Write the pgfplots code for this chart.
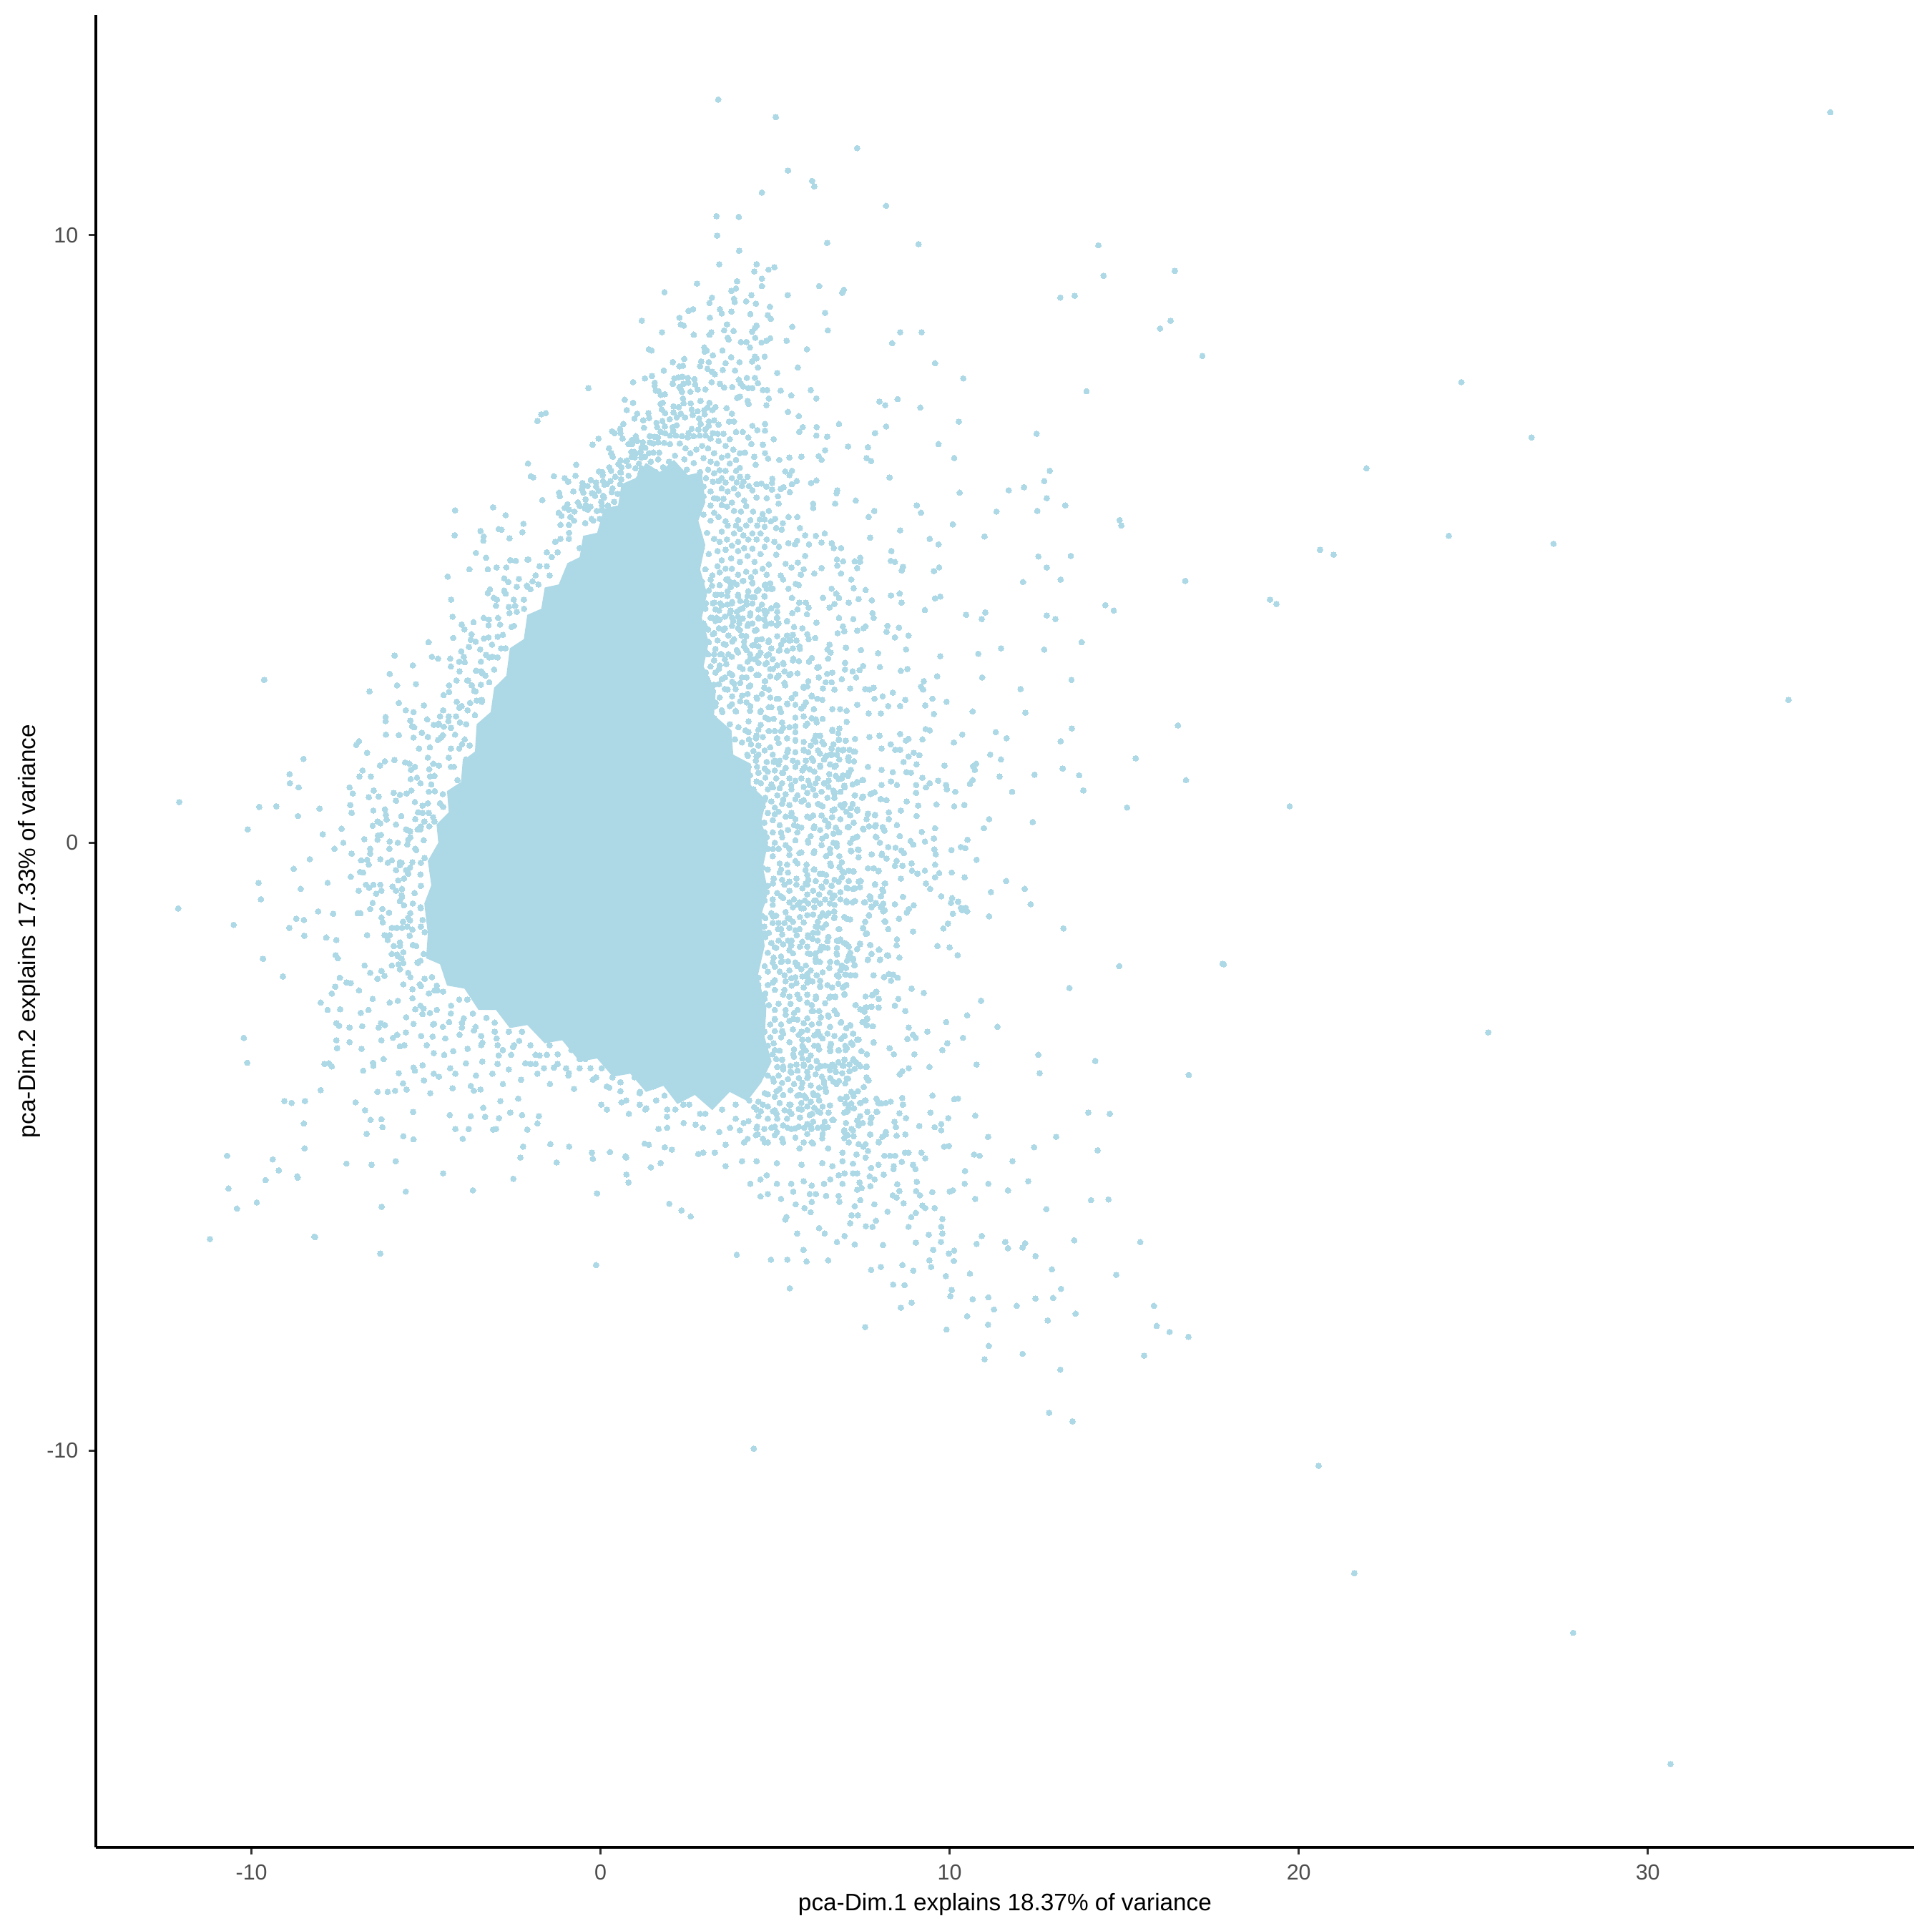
\documentclass[border=0pt]{standalone}
\usepackage{fontspec}
\setmainfont{Liberation Sans}
\usepackage{pgfplots}
\pgfplotsset{compat=1.18}
\definecolor{lb}{HTML}{ADD8E6}
\definecolor{tl}{HTML}{4D4D4D}
\definecolor{tk}{HTML}{333333}
\pgfplotsset{pts/.style={only marks,mark=*,mark size=0.95pt,color=lb,fill=lb,line width=0pt}}
% All positions are read by eye from the reference. Sparse points are individual readings;
% the reference holds far more points than this in the dense cloud, so its solid core is an
% outline and the dense rim and band are a hand-read subset, not the full data.
\begin{document}
\begin{tikzpicture}
\begin{axis}[
 scale only axis,width=610.08pt,height=614.88pt,
 xmin=-14.46,xmax=37.63,ymin=-16.53,ymax=13.62,
 axis lines=left,axis line style={-,line width=0.95pt,black},
 tick align=outside,major tick length=2.4pt,tick style={line width=0.7pt,color=tk},
 xtick={-10,0,10,20,30},xticklabels={-10,0,10,20,30},
 ytick={-10,0,10},yticklabels={-10,0,10},
 tick label style={font=\fontsize{7.3}{9}\selectfont,text=tl},
 label style={font=\fontsize{8}{9.5}\selectfont,text=black},
 xlabel={pca-Dim.1 explains 18.37\% of variance},
 ylabel={pca-Dim.2 explains 17.33\% of variance},
 xlabel style={at={(axis description cs:0.5,0)},anchor=center,yshift=-19.2pt},
 ylabel style={at={(axis description cs:0,0.5)},anchor=center,yshift=22.3pt},
 clip=false
]
% outline of the part of the cloud where the points merge into a solid area
\addplot[fill=lb,draw=none] coordinates {(-4.95,-1.5)(-5.05,-1.0)(-4.85,-0.7)(-4.95,-0.3)(-4.65,0.0)(-4.7,0.3)(-4.35,0.5)(-4.4,0.85)(-4.0,1.0)(-3.95,1.35)(-3.6,1.5)(-3.55,1.95)(-3.15,2.15)(-3.05,2.55)(-2.7,2.75)(-2.6,3.2)(-2.2,3.35)(-2.1,3.75)(-1.7,3.85)(-1.6,4.2)(-1.2,4.25)(-0.95,4.6)(-0.6,4.7)(-0.5,5.05)(-0.1,5.1)(0.1,5.5)(0.5,5.55)(0.6,5.9)(1.0,6.0)(1.3,6.25)(1.7,6.1)(2.1,6.3)(2.5,6.05)(2.9,6.1)(3.0,5.6)(2.8,5.3)(3.0,4.9)(2.85,4.5)(3.05,4.1)(2.9,3.7)(3.1,3.3)(2.95,2.9)(3.3,2.5)(3.25,2.1)(3.75,1.85)(3.8,1.45)(4.3,1.3)(4.3,0.95)(4.75,0.7)(4.6,0.35)(4.8,0)(4.65,-0.4)(4.8,-0.8)(4.6,-1.2)(4.7,-1.7)(4.5,-2.2)(4.75,-2.7)(4.7,-3.2)(4.9,-3.6)(4.6,-3.95)(4.2,-4.25)(3.7,-4.1)(3.2,-4.4)(2.7,-4.15)(2.2,-4.3)(1.8,-4.0)(1.3,-4.1)(0.85,-3.8)(0.35,-3.85)(-0.1,-3.55)(-0.6,-3.6)(-1.1,-3.25)(-1.6,-3.3)(-2.1,-3.0)(-2.6,-3.05)(-3.0,-2.75)(-3.5,-2.75)(-3.9,-2.4)(-4.4,-2.35)(-4.6,-2.0)(-5.0,-1.9)(-4.95,-1.5)};
% upper right
\addplot[pts] coordinates {(3.37,12.23)(5.02,11.94)(7.35,11.43)(5.37,11.06)(6.06,10.89)(6.12,10.80)(4.62,10.70)(8.18,10.48)(3.32,10.31)(3.96,10.30)(3.34,9.99)(6.49,9.87)(9.11,9.85)(14.26,9.83)(3.97,9.74)(16.45,9.41)(14.41,9.33)(4.47,9.52)(3.40,9.52)(4.98,9.47)(4.81,9.43)(4.40,9.40)(4.62,9.28)(3.91,9.24)(4.62,9.16)(6.26,9.16)(3.88,9.12)(3.75,9.08)(6.97,9.10)(6.92,9.05)(4.32,9.01)(5.36,9.01)(13.17,8.97)(13.58,9.0)(3.82,8.95)(4.17,8.91)(3.84,8.90)(4.45,8.87)(4.85,8.82)(3.42,8.78)(3.75,8.74)(3.47,8.71)(4.29,8.70)(6.43,8.72)(4.79,8.68)(4.88,8.62)(16.33,8.59)(16.03,8.46)(3.62,8.53)(4.47,8.51)(5.49,8.49)(4.42,8.47)(4.34,8.41)(3.54,8.43)(3.81,8.42)(6.51,8.43)(8.58,8.40)(9.20,8.40)(4.43,8.31)(3.64,8.31)(3.67,8.28)(4.86,8.30)(4.75,8.26)(4.02,8.24)(4.18,8.24)(4.61,8.23)(5.33,8.26)(8.35,8.22)(5.91,8.12)(4.28,8.15)(3.49,8.10)(17.24,8.01)(3.74,7.99)(4.42,8.0)(4.70,8.0)(4.47,7.97)(9.58,7.89)(3.98,7.91)(4.34,7.92)(3.58,7.89)(5.65,7.82)(4.51,7.82)(3.85,7.77)(3.50,7.78)(5.06,7.73)(10.39,7.64)(4.19,7.65)(4.42,7.65)(3.96,7.62)(4.51,7.56)(4.02,7.55)(4.08,7.51)(3.42,7.55)(3.54,7.49)(3.77,7.50)(4.23,7.48)(4.35,7.48)(4.65,7.45)(4.77,7.45)(5.16,7.44)(6.02,7.45)(13.92,7.43)(5.46,7.36)(4.82,7.31)(6.18,7.31)(3.91,7.32)(3.99,7.34)(4.21,7.27)(4.24,7.22)(4.75,7.20)(7.99,7.26)(8.51,7.30)(8.15,7.20)(9.16,7.16)(5.37,7.09)(5.68,7.02)(10.26,6.93)(4.35,6.86)(4.71,6.89)(5.79,6.84)(6.19,6.84)(6.83,6.89)(8.18,6.85)(4.49,6.79)(4.71,6.78)(5.69,6.76)(6.18,6.70)(6.49,6.68)(7.86,6.74)(12.49,6.73)(4.96,6.64)(9.68,6.56)(4.65,6.55)(7.09,6.52)(7.66,6.51)(6.43,6.46)(4.71,6.41)(4.40,6.35)(5.12,6.30)(5.41,6.34)(5.75,6.35)(6.25,6.36)(6.33,6.30)(7.62,6.33)(7.75,6.28)(10.13,6.33)(4.80,6.32)(4.44,6.22)(12.87,6.12)(5.29,6.11)(5.48,6.12)(5.41,6.05)(8.28,6.01)(5.62,5.95)(6.18,5.96)(6.03,5.92)(12.71,5.95)(4.92,5.99)(4.91,5.92)(5.48,5.90)(12.13,5.85)(11.69,5.80)(4.75,5.86)(5.24,5.85)(5.16,5.82)(6.78,5.80)(4.91,5.81)(5.42,5.77)(6.76,5.75)(10.29,5.76)(12.78,5.67)(5.08,5.70)(4.76,5.67)(7.31,5.63)(6.09,5.58)(6.72,5.58)(6.09,5.51)(5.10,5.58)(13.31,5.55)(9.06,5.55)(9.18,5.43)(11.34,5.45)(12.51,5.46)(7.84,5.46)(4.82,5.46)(14.87,5.31)(14.92,5.22)(7.68,5.36)(5.38,5.36)(5.64,5.36)(5.0,5.33)(10.09,5.24)(5.22,5.26)(5.71,5.18)(5.03,5.18)(5.19,5.15)(8.58,5.14)(5.86,5.06)(6.42,5.09)(6.17,5.05)(11.0,5.04)(7.72,5.02)(9.43,5.0)(5.63,4.97)(6.62,4.93)(4.98,4.95)(5.38,4.93)(5.97,4.91)(6.33,4.94)(9.68,4.91)(5.57,4.91)(5.11,4.87)(6.68,4.85)(6.89,4.85)(8.33,4.80)(20.61,4.82)(21.0,4.74)(5.86,4.72)(13.47,4.72)(12.54,4.71)(5.03,4.74)(6.77,4.66)(7.28,4.63)(7.44,4.69)(7.43,4.62)(6.95,4.63)(8.31,4.64)(8.43,4.62)(5.30,4.59)(5.65,4.61)(8.66,4.54)(6.78,4.56)(5.47,4.53)(7.35,4.52)(9.70,4.53)(12.78,4.53)(5.82,4.50)(6.33,4.52)(8.63,4.48)(9.55,4.47)(6.12,4.43)(6.89,4.43)(5.74,4.41)(5.16,4.40)(13.18,4.33)(7.18,4.33)(12.1,4.29)(16.75,4.31)(5.59,4.26)(5.68,4.24)(5.23,4.33)(7.25,4.19)(7.59,4.16)(6.62,4.18)(5.38,4.18)(6.75,4.10)(8.32,4.07)(8.57,4.10)(9.73,4.05)(9.58,4.02)(5.48,4.03)(6.83,4.03)(6.37,4.03)(7.39,4.01)(7.77,3.99)(19.18,4.0)(19.36,3.93)(5.69,3.95)(6.70,3.93)(7.11,3.95)(8.62,3.95)(5.88,3.95)(14.46,3.91)(14.70,3.82)(5.96,3.87)(6.56,3.87)(5.64,3.84)(9.29,3.83)(7.79,3.78)(10.47,3.75)(11.02,3.79)(10.92,3.68)(12.78,3.74)(13.03,3.68)(5.91,3.76)(5.49,3.78)(6.83,3.70)(7.24,3.68)(7.82,3.70)(5.34,3.64)(6.18,3.62)(8.22,3.57)(8.55,3.54)(7.59,3.56)(7.53,3.53)(6.94,3.56)(5.54,3.55)(7.35,3.49)(6.98,3.48)(6.79,3.45)(8.19,3.47)(5.78,3.53)(8.82,3.41)(8.43,3.38)(5.92,3.43)(6.15,3.37)(5.96,3.35)(6.56,3.26)(13.78,3.30)(7.03,3.21)(11.47,3.20)(12.71,3.18)(7.46,3.17)(8.75,3.18)(7.95,3.12)(6.5,3.18)(6.59,3.13)(10.82,3.11)(9.73,3.07)(6.05,3.04)(6.52,3.03)(5.97,2.98)(7.0,2.96)(7.52,2.91)(8.0,2.89)(6.21,2.88)(6.25,2.89)(7.0,2.85)(7.22,2.82)(7.42,2.84)(8.6,2.83)(8.79,2.86)(6.49,2.78)(6.64,2.80)(6.91,2.69)(7.32,2.72)(9.64,2.74)(10.93,2.72)(13.49,2.68)(6.25,2.72)(5.95,2.66)(6.45,2.64)(6.62,2.64)(9.26,2.66)(9.18,2.57)(9.24,2.52)(12.03,2.53)(7.82,2.55)(8.37,2.47)(7.15,2.54)(7.58,2.53)(7.7,2.52)(6.7,2.52)(6.37,2.54)(8.08,2.41)(8.73,2.35)(9.51,2.37)(7.85,2.37)(9.91,2.32)(7.35,2.27)(8.24,2.25)(8.58,2.25)(9.30,2.26)(10.66,2.16)(12.17,2.14)(9.55,2.12)(8.03,2.13)(7.68,2.13)(7.05,2.17)(6.86,2.20)};
% lower right
\addplot[pts] coordinates {(16.54,1.93)(13.50,1.88)(11.32,1.82)(10.36,1.78)(11.63,1.72)(13.18,1.67)(10.12,1.65)(9.31,1.87)(9.43,1.85)(8.58,1.79)(8.82,1.71)(9.22,1.70)(8.75,1.68)(8.31,1.62)(11.16,1.45)(11.47,1.37)(15.33,1.39)(9.85,1.27)(10.76,1.30)(10.67,1.26)(10.72,1.20)(13.24,1.22)(8.97,1.48)(9.13,1.44)(8.44,1.53)(8.58,1.53)(8.82,1.42)(9.05,1.29)(8.68,1.33)(8.37,1.16)(8.76,1.16)(8.89,1.15)(12.43,1.12)(13.71,1.11)(11.43,1.09)(16.77,1.03)(10.66,1.03)(10.58,0.97)(9.67,1.02)(9.22,1.07)(9.90,0.95)(9.43,0.98)(9.04,0.95)(8.49,0.95)(9.92,0.88)(10.16,0.84)(11.79,0.84)(13.83,0.86)(9.32,0.91)(9.04,0.82)(8.19,0.70)(8.77,0.68)(8.02,0.72)(9.10,0.61)(9.62,0.63)(10.13,0.60)(10.42,0.62)(15.08,0.58)(19.74,0.60)(8.60,0.53)(8.26,0.50)(9.05,0.44)(7.86,0.45)(7.65,0.47)(8.26,0.39)(11.13,0.39)(12.38,0.34)(10.98,0.24)(8.49,0.29)(9.58,0.24)(9.20,0.18)(7.86,0.27)(8.08,0.26)(7.53,0.22)(8.13,0.20)(9.55,0.07)(8.57,0.11)(10.51,0.05)(7.88,0.10)(8.88,0.03)(9.29,0.02)(8.24,-0.07)(8.96,-0.03)(10.32,-0.07)(10.45,-0.09)(8.45,-0.08)(9.56,-0.11)(10.05,-0.12)(8.62,-0.13)(8.69,-0.17)(7.37,-0.11)(7.77,-0.19)(8.05,-0.2)(9.60,-0.19)(7.39,-0.24)(8.19,-0.26)(10.77,-0.28)(8.48,-0.30)(8.91,-0.34)(9.58,-0.36)(8.43,-0.38)(8.65,-0.38)(7.66,-0.42)(7.82,-0.42)(8.92,-0.46)(9.29,-0.46)(7.96,-0.47)(9.08,-0.51)(9.70,-0.50)(10.06,-0.49)(9.58,-0.57)(10.43,-0.57)(8.60,-0.59)(11.62,-0.63)(9.32,-0.67)(8.15,-0.67)(7.86,-0.69)(7.45,-0.63)(12.15,-0.76)(9.44,-0.76)(11.18,-0.81)(8.10,-0.80)(8.66,-0.89)(9.76,-0.88)(10.07,-0.91)(7.71,-0.88)(8.03,-0.88)(10.04,-0.99)(10.24,-0.97)(12.32,-1.01)(8.43,-1.01)(8.97,-1.03)(7.55,-0.98)(7.88,-1.0)(7.76,-1.05)(8.05,-1.05)(10.32,-1.07)(10.46,-1.07)(8.83,-1.09)(10.36,-1.11)(10.50,-1.13)(8.10,-1.13)(8.77,-1.15)(10.09,-1.17)(11.13,-1.21)(7.69,-1.20)(8.55,-1.25)(8.16,-1.30)(9.95,-1.33)(13.26,-1.41)(7.52,-1.41)(9.82,-1.41)(8.24,-1.42)(8.95,-1.46)(7.63,-1.49)(8.49,-1.59)(7.43,-1.67)(8.48,-1.69)(7.72,-1.68)(9.65,-1.70)(10.0,-1.72)(7.35,-1.75)(7.97,-1.76)(10.23,-1.85)(7.76,-1.83)(8.24,-1.86)(8.56,-1.89)(7.65,-1.93)(8.0,-1.93)(14.86,-2.03)(17.85,-2.0)(7.28,-2.01)(8.26,-2.16)(8.38,-2.17)(8.51,-2.22)(8.12,-2.21)(7.82,-2.18)(7.30,-2.18)(8.32,-2.27)(13.43,-2.39)(8.91,-2.40)(9.26,-2.47)(10.90,-2.60)(8.53,-2.57)(7.97,-2.57)(7.59,-2.53)(7.89,-2.46)(7.78,-2.51)(8.43,-2.68)(7.96,-2.71)(7.31,-2.67)(7.44,-2.74)(7.62,-2.71)(10.50,-2.84)(8.73,-2.77)(9.90,-2.95)(7.50,-2.95)(11.37,-3.03)(7.63,-2.89)(7.63,-3.0)(7.79,-3.02)(8.83,-3.04)(9.36,-3.11)(8.95,-3.16)(9.03,-3.21)(8.79,-3.23)(10.38,-3.21)(9.93,-3.30)(7.82,-3.28)(8.28,-3.38)(9.79,-3.41)(8.40,-3.48)(8.99,-3.48)(12.54,-3.49)(14.17,-3.59)(10.77,-3.65)(9.42,-3.69)(8.83,-3.71)(8.64,-3.76)(8.57,-3.81)(7.62,-3.68)(12.58,-3.79)(16.85,-3.82)(7.62,-3.86)(7.68,-3.91)(7.37,-4.09)(9.51,-4.16)(8.64,-4.20)(10.24,-4.21)(10.13,-4.22)(8.66,-4.31)(7.91,-4.22)(7.95,-4.28)(8.04,-4.29)(8.31,-4.26)(7.57,-4.24)(7.43,-4.28)(13.97,-4.44)(14.59,-4.46)(9.45,-4.44)(10.73,-4.49)(8.56,-4.45)(7.92,-4.43)(7.64,-4.43)(8.75,-4.53)(9.96,-4.53)(7.74,-4.54)(8.42,-4.59)(9.76,-4.63)(9.13,-4.66)(9.57,-4.68)(8.46,-4.68)(7.36,-4.57)(7.51,-4.61)(9.76,-4.73)(7.72,-4.80)(8.73,-4.80)(8.48,-4.82)(8.17,-4.80)(11.10,-4.84)(13.05,-4.84)(7.97,-4.92)(14.24,-5.06)(12.42,-5.01)(9.84,-5.0)(9.98,-4.99)(7.39,-4.96)(7.53,-5.0)(7.66,-5.07)(8.72,-5.10)(8.82,-5.10)(9.19,-5.10)(10.70,-5.13)(10.86,-5.15)(8.13,-5.15)(8.29,-5.15)(8.44,-5.15)(9.30,-5.19)(7.59,-5.18)(7.33,-5.13)(11.80,-5.24)(8.63,-5.25)(8.95,-5.30)(7.96,-5.30)(8.40,-5.32)(7.75,-5.35)(9.02,-5.37)(8.39,-5.37)(10.44,-5.40)(7.35,-5.44)(8.11,-5.46)(7.71,-5.49)(7.85,-5.54)(12.25,-5.57)(10.43,-5.61)(11.11,-5.61)(8.50,-5.62)(9.06,-5.58)(7.42,-5.59)(7.73,-5.65)(7.48,-5.68)(11.67,-5.72)(8.56,-5.73)(9.04,-5.73)(10.09,-5.72)(10.0,-5.74)(9.50,-5.75)(7.35,-5.71)(9.15,-5.80)(8.37,-5.80)(8.48,-5.84)(10.73,-5.86)(14.05,-5.88)(14.55,-5.87)(8.68,-5.93)(7.84,-5.95)(7.44,-5.88)(7.28,-5.98)(9.22,-5.97)(9.30,-6.01)(9.57,-6.01)(12.77,-6.03)(8.22,-6.07)(9.03,-6.09)(7.37,-6.13)(9.79,-6.19)(8.90,-6.16)(7.19,-6.13)(7.89,-6.22)(7.15,-6.26)(7.60,-6.31)(7.79,-6.32)(8.82,-6.32)(9.76,-6.32)(9.79,-6.43)(6.99,-6.47)(9.40,-6.45)(10.92,-6.47)(9.03,-6.58)(9.75,-6.57)(10.77,-6.60)(11.59,-6.57)(13.57,-6.54)(15.46,-6.57)(12.16,-6.59)(12.09,-6.66)(11.67,-6.67)(8.09,-6.62)(7.28,-6.61)(9.53,-6.70)(10.13,-6.71)(9.98,-6.76)(12.46,-6.80)(9.42,-6.87)(10.12,-6.88)(9.47,-6.98)(8.65,-6.95)(8.03,-6.98)(7.75,-7.03)(8.96,-7.04)(12.93,-7.02)(10.58,-7.09)(9.89,-7.13)(14.77,-7.11)(8.38,-7.27)(8.71,-7.28)(13.19,-7.34)(10.06,-7.36)(10.02,-7.46)(10.66,-7.51)(11.11,-7.48)(12.46,-7.50)(12.96,-7.49)(11.92,-7.62)(15.85,-7.62)(8.60,-7.65)(8.91,-7.57)(11.27,-7.68)(13.61,-7.75)(10.50,-7.79)(12.81,-7.86)(15.93,-7.95)(11.10,-7.93)(16.30,-8.05)(16.84,-8.13)(9.91,-8.01)(7.58,-7.97)(11.12,-8.28)(12.09,-8.41)(15.57,-8.44)(11.0,-8.5)(3.90,-6.78)(4.88,-6.86)(5.35,-6.86)(5.90,-6.89)(6.52,-6.87)(5.42,-7.33)(5.63,-6.43)(6.26,-6.34)(6.42,-6.43)(6.77,-6.57)(5.81,-6.70)(5.32,-6.16)(5.29,-6.20)};
% far outliers
\addplot[pts] coordinates {(4.39,-9.97)(20.57,-10.25)(21.59,-12.02)(27.86,-13.0)(30.65,-15.16)(35.23,12.02)(34.03,2.35)(25.43,-3.12)(17.82,-1.99)(12.85,-9.38)(13.52,-9.52)(13.17,-8.67)(24.66,7.58)(26.67,6.67)(21.94,6.16)(24.30,5.05)(27.30,4.92)(-10.7,-5.15)(-10.66,-5.69)(-10.42,-6.02)(-11.19,-6.52)(-9.85,-5.92)(-9.6,-5.55)(-9.39,-5.21)(-9.22,-5.39)(-8.69,-5.49)(-8.2,-6.48)};
% left
\addplot[pts] coordinates {(-4.17,5.47)(-3.08,5.52)(-2.72,5.39)(-2.21,5.25)(-4.18,5.06)(-3.44,5.13)(-2.92,5.16)(-2.84,5.15)(-3.35,5.04)(-3.36,4.97)(-2.61,5.01)(-2.24,5.11)(-3.57,4.77)(-3.28,4.69)(-3.76,4.50)(-3.23,4.50)(-2.98,4.53)(-2.59,4.65)(-2.43,4.64)(-2.07,4.66)(-4.38,4.38)(-2.70,4.53)(-2.76,4.35)(-2.64,4.29)(-2.34,4.34)(-2.11,4.23)(-3.17,4.17)(-3.23,4.11)(-2.76,4.15)(-3.06,4.03)(-2.97,4.0)(-4.28,4.0)(-2.49,4.0)(-3.0,3.90)(-2.63,3.88)(-2.19,3.85)(-4.24,3.72)(-3.98,3.59)(-3.64,3.63)(-3.35,3.70)(-3.20,3.67)(-3.21,3.58)(-2.94,3.70)(-2.61,3.78)(-3.90,3.51)(-3.70,3.43)(-2.88,3.59)(-4.22,3.37)(-4.93,3.30)(-3.72,3.34)(-3.58,3.31)(-3.34,3.36)(-3.21,3.38)(-3.77,3.22)(-3.11,3.26)(-3.45,3.18)(-5.90,3.08)(-4.83,3.06)(-4.66,3.03)(-4.31,3.03)(-3.92,3.06)(-3.99,3.15)(-3.28,3.09)(-3.10,3.06)(-5.38,2.92)(-4.29,2.90)(-4.05,2.98)(-3.89,2.97)(-3.43,2.98)(-6.04,2.78)(-3.57,2.83)(-4.04,2.82)(-3.39,2.79)(-9.64,2.68)(-5.29,2.61)(-5.83,2.59)(-4.13,2.67)(-3.80,2.67)(-4.34,2.59)(-3.69,2.59)(-6.62,2.49)(-4.50,2.43)(-4.34,2.48)(-3.62,2.50)(-5.78,2.30)(-4.12,2.32)(-5.06,2.26)(-3.55,2.34)(-3.40,2.32)(-5.58,2.18)(-5.36,2.15)(-4.51,2.18)(-3.98,2.25)(-3.81,2.18)(-6.16,2.07)(-6.16,2.0)(-4.60,2.08)(-4.35,2.08)(-4.97,2.03)(-5.45,2.01)(-4.14,2.08)(-5.40,1.92)(-4.78,1.94)(-4.65,1.94)(-4.49,1.91)(-5.34,1.90)(-4.29,1.89)(-4.03,1.98)(-5.12,1.81)(-6.15,1.78)(-5.78,1.77)(-5.36,1.73)(-4.95,1.74)(-4.66,1.69)(-6.92,1.67)(-7.0,1.61)(-4.57,1.73)(-4.17,1.78)(-6.69,1.48)(-5.20,1.55)(-4.89,1.57)(-8.51,1.38)(-5.91,1.36)(-6.18,1.34)(-6.32,1.27)(-5.60,1.32)(-5.48,1.30)(-4.95,1.40)(-4.79,1.30)(-4.63,1.27)(-5.32,1.25)(-5.43,1.20)(-6.82,1.19)(-8.91,1.13)(-6.58,1.09)(-6.91,1.09)(-5.44,1.05)(-5.26,1.07)(-4.89,1.09)(-8.90,0.98)(-8.65,0.91)(-7.19,0.91)(-7.10,0.81)(-6.50,0.86)(-5.16,0.98)(-4.85,0.96)(-6.36,0.76)(-6.64,0.75)(-5.93,0.82)(-5.75,0.79)(-5.56,0.81)(-5.42,0.86)(-4.92,0.84)(-12.07,0.67)(-9.78,0.59)(-9.29,0.60)(-8.05,0.56)(-7.17,0.62)(-8.67,0.44)(-7.13,0.49)(-6.51,0.53)(-6.18,0.55)(-6.15,0.46)(-5.86,0.69)(-5.32,0.67)(-5.10,0.61)(-5.71,0.44)(-5.10,0.49)(-5.31,0.39)(-6.39,0.35)(-6.31,0.32)(-6.13,0.38)(-6.53,0.28)(-5.86,0.30)(-10.11,0.22)(-7.42,0.23)(-7.96,0.14)(-6.38,0.12)(-6.29,0.13)(-5.51,0.20)(-5.24,0.22)(-7.37,0.0)(-6.77,0.06)(-6.39,0.05)(-6.04,0.02)(-5.81,0.0)(-5.51,0.05)(-7.62,-0.10)(-6.60,-0.10)(-6.05,-0.10)(-7.13,-0.18)(-6.60,-0.18)(-8.33,-0.27)(-6.86,-0.29)(-6.69,-0.28)(-6.31,-0.27)(-5.98,-0.29)(-6.64,-0.36)(-6.10,-0.33)(-5.75,-0.37)(-8.79,-0.43)(-6.89,-0.48)(-6.80,-0.49)(-5.86,-0.45)(-5.51,-0.51)(-7.16,-0.56)(-9.80,-0.66)(-7.82,-0.66)(-6.72,-0.69)(-6.51,-0.69)(-6.31,-0.69)(-5.80,-0.62)(-8.59,-0.76)(-6.93,-0.79)(-6.63,-0.74)(-5.96,-0.72)(-6.28,-0.79)(-5.69,-0.76)(-9.73,-0.93)(-6.43,-0.84)(-5.69,-0.89)(-6.53,-0.99)(-5.63,-1.03)(-12.10,-1.08)(-6.60,-1.09)(-6.25,-1.09)(-8.09,-1.13)(-7.66,-1.17)(-6.96,-1.16)(-6.88,-1.16)(-6.06,-1.15)(-5.45,-1.16)(-6.28,-1.23)(-6.24,-1.31)(-5.66,-1.30)(-5.46,-1.28)(-10.51,-1.35)(-8.72,-1.25)(-8.50,-1.27)(-8.92,-1.40)(-5.84,-1.40)(-5.69,-1.40)(-8.49,-1.53)(-6.69,-1.52)(-6.19,-1.52)(-6.04,-1.52)(-7.86,-1.56)(-7.57,-1.60)(-6.10,-1.60)(-5.47,-1.53)(-5.92,-1.70)(-5.75,-1.70)(-7.59,-1.85)(-7.53,-1.90)(-9.67,-1.91)(-5.98,-1.83)(-5.83,-1.84)(-5.65,-1.80)(-6.76,-2.02)(-5.79,-2.0)(-5.65,-1.98)(-5.98,-2.02)(-6.28,-2.11)(-6.60,-2.14)(-5.75,-2.08)(-5.25,-1.97)(-9.10,-2.20)(-7.47,-2.22)(-6.19,-2.19)(-6.39,-2.24)(-5.45,-2.21)(-7.28,-2.30)(-7.16,-2.31)(-5.65,-2.33)(-5.18,-2.33)(-6.92,-2.43)(-7.60,-2.37)(-7.70,-2.48)(-6.53,-2.57)(-5.39,-2.56)(-6.04,-2.63)(-5.81,-2.60)(-8.02,-2.63)(-5.31,-2.74)(-7.82,-2.75)(-7.46,-2.74)(-6.87,-2.80)(-6.65,-2.75)(-5.10,-2.82)(-5.57,-2.87)(-4.89,-2.80)(-7.57,-2.97)(-7.49,-3.01)(-7.19,-3.04)(-6.83,-3.02)(-6.36,-3.04)(-6.29,-2.97)(-6.18,-3.0)(-5.36,-2.98)(-4.77,-2.98)(-10.22,-3.21)(-5.58,-3.12)(-5.83,-3.16)(-7.57,-3.25)(-7.19,-3.28)(-6.28,-3.25)(-5.95,-3.21)(-5.14,-3.18)(-4.81,-3.19)(-7.55,-3.38)(-6.85,-3.39)(-5.75,-3.35)(-5.62,-3.33)(-4.98,-3.33)(-6.22,-3.56)(-4.78,-3.46)(-4.48,-3.49)(-10.12,-3.62)(-7.91,-3.64)(-7.78,-3.63)(-7.70,-3.68)(-6.52,-3.62)(-6.51,-3.67)(-5.10,-3.66)(-5.36,-3.70)(-6.80,-3.75)(-5.32,-3.75)(-4.31,-3.71)(-5.78,-3.79)(-4.78,-3.80)(-4.63,-3.85)(-5.06,-3.91)(-4.16,-3.80)(-5.66,-3.96)(-3.72,-4.0)(-8.02,-4.07)(-5.56,-4.06)(-4.24,-4.04)(-3.63,-4.08)(-3.44,-4.06)(-4.88,-4.12)(-6.39,-4.10)(-6.10,-4.10)(-5.89,-4.08)(-9.06,-4.25)(-8.85,-4.28)(-8.47,-4.25)(-7.02,-4.27)(-2.87,-4.25)(-3.36,-4.36)(-6.75,-4.40)(-5.37,-4.43)(-4.32,-4.48)(-3.72,-4.50)(-2.59,-4.44)(-6.59,-4.56)(-6.28,-4.55)(-8.50,-4.62)(-6.25,-4.68)(-3.31,-4.51)(-2.91,-4.53)(-6.70,-4.79)(-4.16,-4.71)(-3.78,-4.71)(-3.08,-4.72)(-3.0,-4.71)(-5.65,-4.83)(-5.36,-4.88)(-3.95,-4.87)(-2.10,-4.72)(-1.81,-4.62)(-2.25,-4.48)(-1.77,-4.50)(-2.36,-4.21)(-0.90,-5.0)(-2.22,-5.0)(-1.44,-4.96)(-2.30,-5.18)(-0.25,-5.10)(-0.22,-5.20)(0.27,-5.09)(0.71,-5.16)(0.73,-5.18)(-1.26,-5.26)(1.44,-5.34)(1.72,-5.27)(2.80,-5.12)(2.94,-5.10)(3.27,-5.10)(1.84,-5.01)(2.04,-5.05)(1.26,-4.95)(1.38,-4.97)(-7.28,-5.28)(-6.56,-5.30)(-5.87,-5.24)(-8.68,-5.51)(-4.51,-5.44)(-2.50,-5.53)(0.74,-5.46)(0.80,-5.59)(-5.58,-5.74)(-3.66,-5.72)(-0.10,-5.77)(-6.27,-5.99)(1.97,-5.94)(2.32,-6.05)(2.58,-6.15)(-8.18,-6.49)(-6.31,-6.76)(-0.13,-6.95)(-8.48,-5.03)};
% top of the upper lobe
\addplot[pts] coordinates {(2.76,9.20)(1.83,9.06)(3.19,8.97)(3.12,8.88)(2.65,8.78)(2.52,8.75)(2.26,8.64)(3.13,8.64)(1.18,8.59)(2.30,8.53)(2.38,8.51)(1.76,8.40)(2.67,8.36)(3.17,8.40)(3.12,8.36)(1.38,8.12)(1.46,8.10)(2.97,8.15)(2.98,8.08)(3.04,8.10)(2.40,7.96)(2.07,7.91)(2.36,7.85)(2.26,7.84)(2.88,7.92)(2.85,7.84)(3.22,8.02)(3.10,7.91)(1.81,7.77)(3.06,7.80)(3.19,7.75)(3.27,7.71)(1.47,7.68)(1.27,7.64)(0.93,7.58)(2.11,7.64)(2.23,7.66)(2.34,7.67)(2.50,7.65)(2.69,7.63)(3.18,7.58)(2.07,7.55)(1.55,7.57)(1.55,7.52)(2.51,7.57)(2.37,7.55)(2.71,7.54)(2.26,7.50)(2.78,7.46)(-0.35,7.48)(3.0,7.46)(2.30,7.46)(1.58,7.44)(1.66,7.43)(2.33,7.42)(2.57,7.42)(1.72,7.37)(1.84,7.38)(2.36,7.31)(0.69,7.29)(0.93,7.24)(2.86,7.27)(1.78,7.24)(1.72,7.22)(2.38,7.23)(2.58,7.23)(3.12,7.24)(2.09,7.18)(2.24,7.17)(3.06,7.16)(3.29,7.17)(1.75,7.13)(0.75,7.12)(2.61,7.13)(2.78,7.10)(2.97,7.12)(3.2,7.12)(-1.57,7.07)(-1.70,7.05)(1.37,7.07)(1.05,7.06)(1.85,7.07)(2.09,7.08)(2.30,7.06)(2.64,7.04)(2.98,7.05)(-1.81,6.94)(0.97,6.98)(1.39,6.99)(2.18,7.0)(2.42,7.0)(2.82,6.98)(1.22,6.95)(1.98,6.97)(1.77,6.94)(1.60,6.91)(3.25,6.95)(3.10,6.93)(0.65,6.89)(2.87,6.89)(1.84,6.85)(1.62,6.84)(2.06,6.84)(2.18,6.87)(1.24,6.83)(0.56,6.81)(0.33,6.77)(0.40,6.74)(0.57,6.74)(1.72,6.76)(1.85,6.74)(2.08,6.78)(2.61,6.81)(2.80,6.80)(3.0,6.80)(3.10,6.86)(3.22,6.74)(1.99,6.70)(2.16,6.70)(2.52,6.74)(2.67,6.69)(2.84,6.70)(3.01,6.70)(-0.06,6.65)(0.63,6.65)(1.01,6.69)(1.41,6.69)(1.55,6.68)(1.64,6.67)(0.90,6.63)(1.05,6.61)(1.21,6.59)(2.33,6.69)(2.50,6.67)(3.15,6.65)(1.41,6.59)(1.51,6.57)(1.65,6.59)(1.82,6.58)(1.99,6.56)(-0.23,6.55)(0.80,6.56)(0.90,6.56)(1.17,6.50)(0.24,6.49)(0.30,6.41)(0.88,6.43)(1.15,6.43)(1.38,6.41)(1.51,6.42)(1.68,6.42)(1.0,6.40)(0.89,6.35)(0.98,6.34)(1.17,6.34)(1.27,6.35)(0.57,6.29)(0.76,6.29)(1.65,6.31)(1.44,6.27)(-2.08,6.24)(-0.70,6.22)(0.51,6.23)(0.25,6.18)(0.80,6.20)(1.10,6.24)(0.60,6.18)(1.0,6.16)(0.30,6.12)(-0.05,6.11)(0.57,6.10)(1.17,6.16)(1.14,6.08)(0.06,6.05)(-2.0,6.03)(-1.93,6.01)(-1.34,6.03)(-0.72,6.04)(-1.03,6.0)(-0.93,5.94)(-0.28,5.97)(0.42,6.02)(0.80,6.04)(0.59,5.98)(-0.52,5.92)(-0.13,5.93)(0.07,5.95)(0.28,5.95)(-0.37,5.87)(0.11,5.89)(0.56,5.90)(-0.54,5.82)(-0.13,5.86)(0.75,5.86)(0.97,5.86)(-0.06,5.79)(-0.78,5.78)(-1.19,5.76)(-0.49,5.76)(0.32,5.77)(0.49,5.74)(-1.17,5.70)(-0.22,5.75)(-0.16,5.71)(0.07,5.71)(0.63,5.70)(-1.67,5.64)(-0.43,5.65)(0.90,5.69)(-0.65,5.60)(0.02,5.61)(0.39,5.61)(-0.95,5.57)(-0.60,5.54)(-0.42,5.56)(0.04,5.55)(0.21,5.55)(-1.03,5.51)(-0.91,5.48)(-0.37,5.48)(-1.2,5.43)(-0.11,5.46)(0.04,5.47)(-1.12,5.38)(-0.87,5.36)(0.21,5.43)(-0.26,5.33)(-0.02,5.33)(2.27,6.57)(2.43,6.49)(2.57,6.41)(2.74,6.47)(2.91,6.53)(3.08,6.49)(3.25,6.41)(2.13,6.37)(2.40,6.31)(2.67,6.25)(2.95,6.33)(3.15,6.27)(1.96,6.27)(2.13,6.21)(2.47,6.14)(2.85,6.10)(3.08,6.14)(3.25,6.08)(1.79,6.18)(1.58,6.10)(1.38,6.14)(3.02,6.0)(3.22,5.94)(2.95,5.86)(3.15,5.78)(3.25,5.67)(2.95,5.70)(2.78,5.68)(3.15,5.55)(3.25,5.43)(2.85,5.55)(2.67,5.47)};
% rim of the solid area
\addplot[pts] coordinates {(-3.97,-2.96)(-3.58,-3.03)(-3.42,-3.33)(-3.03,-3.11)(-2.80,-3.41)(-2.95,-3.64)(-2.56,-3.49)(-2.33,-3.26)(-2.01,-3.64)(-1.86,-3.49)(-1.54,-3.49)(-1.62,-3.71)(-1.23,-3.64)(-0.91,-3.79)(-0.60,-3.71)(-0.44,-3.56)(-0.76,-4.05)(-0.13,-3.86)(0.18,-4.01)(0.57,-3.94)(0.73,-4.24)(0.18,-4.39)(1.12,-4.12)(1.28,-4.39)(1.59,-4.24)(1.91,-4.39)(2.22,-4.16)(2.54,-4.31)(2.85,-4.46)(3.16,-4.24)(3.48,-4.39)(3.87,-4.31)(4.26,-4.24)(4.65,-4.31)(5.04,-4.09)(5.04,-4.46)(5.44,-4.31)(5.83,-4.16)(6.06,-4.46)(1.91,-4.69)(2.38,-4.61)(2.93,-4.69)(3.40,-4.76)(3.71,-4.69)(4.10,-4.61)(4.50,-4.80)(4.89,-4.69)(5.36,-4.69)(5.83,-4.69)(6.22,-4.69)(0.81,-4.46)(-4.76,-2.43)(-5.07,-2.73)(-4.52,-3.03)(-4.05,-2.58)(-3.89,1.70)(-4.29,1.25)(-4.52,0.80)(-4.76,0.35)(-5.07,0.04)(-5.15,-0.33)(-5.15,-1.08)(-5.07,-1.83)(-4.83,-2.21)(-4.05,1.55)(-3.43,2.60)(-3.19,3.05)(-2.80,3.42)(-2.40,3.80)(-2.01,4.17)(-1.54,4.55)(-1.15,5.0)(-0.76,5.30)(-0.29,5.53)(0.18,5.90)(0.73,6.28)(1.28,6.50)(-4.76,1.10)(-4.91,1.21)(-4.29,1.55)(-3.97,1.62)(-4.52,1.77)(-4.64,1.96)(-4.36,2.0)(-4.05,2.22)(-3.74,2.30)(-3.58,2.49)(-3.82,2.67)(-3.42,2.82)(-3.19,2.64)(-2.95,3.39)(-2.72,3.20)(-2.48,3.57)(-2.72,4.10)(-2.40,4.21)(-2.09,4.21)(-1.86,4.40)(-2.09,4.66)(-1.78,4.25)(-1.46,4.40)(-1.54,4.78)(-1.23,4.78)(-1.15,5.23)(-0.91,5.23)(-0.91,5.0)(-0.60,4.85)(-0.44,5.26)(-0.21,5.30)(0.10,5.68)(0.34,5.83)(0.58,6.09)(0.97,6.43)(-0.37,5.53)(-0.52,5.87)(-5.23,0.50)(-5.46,0.19)(-5.15,0.27)(-4.91,0.27)(-5.54,-0.03)(-5.31,-0.10)(-5.70,-0.33)(-5.46,-0.41)(-5.15,-0.71)(-5.70,-0.86)(-5.38,-1.0)(-5.54,-1.38)(-5.15,-1.38)(-5.38,-1.68)(-5.70,-1.91)(-5.23,-1.98)(-5.15,-2.36)(-4.68,-2.43)(-3.82,-2.58)(-4.29,-2.81)(-3.97,-3.04)(-3.66,-2.81)(-3.27,-2.88)(-3.42,-3.18)(-3.03,-2.96)(-2.95,-3.33)(-2.63,-3.11)(-2.25,-3.11)(-2.48,-3.33)(-2.01,-3.33)(-1.86,-3.64)(-1.46,-3.33)(-1.23,-3.48)(-0.84,-3.41)(-0.99,-3.71)(-0.60,-3.56)(-0.29,-3.71)(0.03,-3.71)(0.34,-3.86)(0.57,-4.09)(0.97,-3.86)(1.12,-4.31)(1.52,-4.01)(1.83,-4.16)(2.14,-4.39)(2.69,-4.09)(3.0,-4.46)(3.48,-4.09)(3.87,-4.54)(4.10,-4.09)(-3.98,0.90)(-3.86,0.76)(-4.51,0.59)(-4.92,0.49)(-4.80,0.42)(-5.16,0.22)(-5.45,0.09)(-5.57,0.22)(-5.28,-0.12)(-5.75,-0.32)(-5.57,-0.45)(-5.39,-0.32)(-5.04,-0.25)(-5.63,-0.59)(-5.16,-0.52)(-5.86,-0.79)(-5.33,-0.83)(-5.75,-0.96)(-5.16,-1.06)(-5.51,-1.23)(-5.10,-1.27)(-5.98,-1.40)(-5.39,-1.43)(-5.04,-1.47)(-5.75,-1.64)(-5.28,-1.70)(-5.80,-1.87)(-5.16,-1.94)(-5.51,-2.14)(-5.04,-2.24)(-4.69,-2.35)(-5.39,-2.41)(-4.92,-2.48)(-4.51,-2.45)(-5.16,-2.68)(-4.69,-2.75)(-4.28,-2.68)(-4.80,-2.99)(-4.34,-2.95)(-3.92,-2.89)(-4.45,-3.22)(-4.04,-3.16)(-3.63,-3.09)(-4.22,-3.43)(-3.81,-3.39)(-3.39,-3.29)(-2.98,-3.22)(-3.86,-3.63)(-3.39,-3.60)(-2.92,-3.50)(-2.51,-3.36)(-3.57,-3.83)(-3.10,-3.80)(-2.63,-3.73)(-2.16,-3.63)(-1.75,-3.50)(-2.80,-3.97)(-2.28,-3.90)(-1.81,-3.80)(-1.34,-3.70)(-0.92,-3.83)(-1.45,-3.97)(-0.57,-3.56)(-0.22,-3.90)(0.25,-4.03)(0.02,-4.31)(0.60,-4.27)(1.13,-4.10)(1.31,-4.37)(1.90,-4.51)(1.66,-4.71)(2.37,-4.31)(2.72,-4.64)(-3.63,1.17)(-4.10,1.03)(-3.86,1.37)(-3.75,1.6)(-3.85,1.95)(-3.6,2.1)(-3.4,2.35)(-3.3,2.75)(-3.05,2.85)(-2.95,3.05)(-2.85,3.2)(-2.55,3.55)(-2.45,3.9)(-2.2,4.0)(-1.95,4.3)(-1.75,4.55)(-1.4,4.7)(-1.3,4.95)(-0.9,5.1)(-0.75,5.45)(-0.45,5.5)(-0.25,5.75)(0.05,6.1)(0.35,6.35)(-4.2,1.25)(-4.35,1.4)(-4.6,0.65)(-4.75,0.85)(-4.95,0.65)(-5.05,0.35)};
% dense band, upper part
\addplot[pts] coordinates {(3.61,7.15)(3.76,7.06)(3.68,6.93)(3.82,6.93)(3.38,6.88)(3.88,6.76)(4.07,6.76)(3.35,6.73)(3.52,6.73)(4.23,6.67)(3.70,6.64)(3.38,6.61)(4.32,6.56)(3.58,6.53)(3.80,6.47)(3.99,6.41)(4.14,6.42)(3.64,6.37)(3.47,6.34)(3.88,6.30)(3.70,6.24)(3.33,6.24)(3.99,6.17)(3.41,6.13)(3.58,6.12)(3.88,6.12)(4.21,6.02)(3.47,6.0)(3.76,6.0)(3.99,6.02)(3.38,5.95)(3.58,5.93)(3.90,5.93)(4.47,5.90)(4.61,5.91)(4.09,5.94)(4.25,5.87)(4.05,5.87)(3.82,5.83)(3.47,5.83)(3.64,5.78)(4.35,5.80)(3.94,5.73)(3.35,5.66)(3.52,5.66)(4.11,5.63)(4.47,5.68)(3.76,5.60)(4.17,5.54)(3.47,5.56)(3.62,5.53)(4.02,5.45)(3.82,5.46)(4.37,5.45)(4.64,5.41)(3.38,5.36)(4.29,5.31)(4.56,5.32)(3.94,5.31)(3.58,5.29)(4.70,5.32)(4.49,5.22)(4.17,5.22)(3.64,5.22)(4.88,5.29)(3.99,5.16)(3.88,5.22)(3.47,5.12)(4.70,5.20)(4.35,5.09)(4.09,5.06)(4.58,5.09)(3.82,5.09)(3.62,4.99)(4.23,4.99)(4.76,4.99)(3.41,4.95)(3.94,4.95)(4.47,4.99)(3.76,4.89)(3.35,4.80)(4.11,4.85)(4.35,4.84)(4.70,4.87)(3.58,4.82)(3.94,4.80)(4.58,4.75)(3.74,4.68)(4.21,4.72)(3.47,4.65)(3.99,4.62)(4.41,4.62)(4.82,4.58)(3.35,4.55)(4.64,4.51)(3.76,4.51)(3.58,4.51)(4.17,4.46)(4.43,4.46)(3.41,4.45)(3.94,4.41)(4.76,4.41)(3.64,4.34)(4.09,4.31)(4.35,4.28)(4.70,4.24)(3.82,4.28)(3.41,4.24)(4.88,4.18)(4.52,4.16)(4.23,4.14)(3.64,4.14)(3.94,4.08)(4.70,4.05)(3.33,4.08)(4.41,4.04)(4.17,3.97)(3.76,3.94)(5.03,3.91)(4.52,3.84)(3.99,3.84)(3.47,3.91)(4.76,3.80)(4.29,3.78)(3.70,3.77)(3.99,3.67)(5.05,3.70)(4.52,3.70)(3.41,3.67)(4.76,3.60)(4.23,3.60)(3.76,3.57)(3.52,3.50)(3.99,3.50)(4.47,3.50)(5.05,3.58)(4.17,3.40)(3.82,3.35)(4.82,3.33)(3.35,3.33)(4.41,3.26)(5.17,3.26)(3.58,3.26)(5.40,3.33)(5.70,3.23)(4.11,3.23)(3.94,3.13)(4.58,3.13)(5.11,3.16)(4.82,3.10)(3.47,3.10)(4.29,3.03)(3.76,3.06)(5.52,3.03)(5.23,2.96)(4.52,2.96)(3.99,2.89)(4.76,2.96)(3.41,2.92)(4.94,2.86)(4.29,2.86)(5.64,2.79)(3.70,2.79)(5.41,2.76)(4.47,2.76)(4.05,2.72)(5.05,2.72)(4.70,2.66)(3.47,2.69)(3.82,2.62)(4.29,2.59)(5.82,2.57)(5.29,2.59)(4.82,2.52)(3.64,2.52)(6.05,2.42)(5.58,2.45)(5.05,2.37)(4.05,2.42)(4.47,2.39)(3.41,2.39)(6.35,2.35)(3.76,2.28)(4.29,2.25)(4.82,2.23)(5.35,2.28)(5.82,2.25)(6.11,2.20)(6.64,2.20)(5.17,2.15)(4.58,2.15)(3.88,2.16)(3.47,2.18)(2.95,5.4)(3.15,5.3)(3.05,5.1)(3.25,5.0)(2.9,4.85)(3.1,4.75)(3.0,4.5)(3.2,4.4)(2.9,4.3)(3.1,4.15)(3.25,3.95)(3.0,3.85)(3.2,3.7)(3.0,3.55)(3.25,3.45)(3.1,3.3)(3.0,3.15)(3.25,3.1)(3.15,2.9)(3.05,2.7)(3.25,2.6)(3.1,2.45)(3.3,2.3)(3.15,2.2)(3.25,2.05)(3.4,1.95)};
% dense band, lower part
\addplot[pts] coordinates {(4.82,2.03)(5.58,2.06)(6.17,2.03)(7.05,1.99)(6.64,1.86)(5.88,1.93)(5.23,1.89)(4.47,1.76)(5.05,1.72)(5.58,1.69)(6.11,1.69)(6.35,1.66)(6.82,1.69)(7.29,1.71)(7.70,1.74)(7.99,1.76)(4.70,1.52)(5.35,1.49)(5.82,1.52)(6.23,1.52)(6.58,1.45)(6.93,1.52)(7.29,1.50)(8.05,1.55)(4.47,1.42)(4.99,1.35)(5.64,1.32)(6.05,1.39)(6.46,1.42)(7.11,1.41)(7.26,1.34)(4.70,1.22)(5.23,1.15)(5.82,1.22)(6.29,1.25)(6.70,1.25)(7.17,1.20)(7.66,1.25)(8.05,1.20)(4.47,1.01)(4.94,0.91)(5.46,0.95)(5.99,0.95)(6.40,0.98)(6.82,1.05)(7.35,0.99)(7.50,1.03)(8.05,0.95)(8.32,1.01)(4.70,0.71)(5.23,0.71)(5.76,0.68)(6.23,0.64)(6.70,0.81)(6.99,0.91)(7.29,0.78)(7.52,0.76)(7.76,0.81)(4.47,0.44)(4.99,0.47)(5.46,0.44)(5.99,0.41)(6.64,0.53)(6.99,0.64)(7.35,0.53)(7.17,0.57)(4.70,0.17)(5.17,0.17)(5.64,0.27)(6.11,0.24)(6.52,0.27)(6.82,0.17)(7.23,0.07)(7.35,0.10)(7.11,0.26)(4.47,-0.07)(4.94,-0.10)(5.41,-0.10)(5.94,0.03)(6.35,0.07)(6.76,-0.01)(7.17,-0.13)(5.70,-0.17)(6.11,-0.17)(6.58,-0.17)(4.64,-0.41)(5.17,-0.44)(5.64,-0.34)(6.11,-0.44)(6.58,-0.34)(6.93,-0.47)(7.23,-0.47)(6.35,-0.51)(4.47,-0.64)(4.94,-0.67)(5.41,-0.64)(5.88,-0.67)(6.35,-0.74)(6.82,-0.64)(7.05,-0.74)(7.40,-0.64)(7.23,-0.76)(4.70,-0.95)(5.17,-0.88)(5.70,-0.98)(6.17,-0.95)(6.64,-0.91)(7.05,-0.98)(7.29,-0.96)(4.47,-1.15)(4.94,-1.21)(5.41,-1.25)(5.82,-1.08)(6.29,-1.22)(6.70,-1.22)(7.05,-1.25)(4.70,-1.49)(5.17,-1.42)(5.70,-1.42)(6.17,-1.38)(6.52,-1.55)(6.82,-1.42)(5.94,-1.55)(4.47,-1.76)(4.99,-1.72)(5.46,-1.69)(5.94,-1.82)(6.40,-1.72)(6.82,-1.62)(7.05,-1.67)(6.76,-1.82)(7.17,-1.89)(4.70,-2.03)(5.17,-1.96)(5.64,-2.03)(6.17,-1.96)(6.58,-1.96)(6.93,-2.03)(7.23,-1.93)(4.47,-2.30)(4.94,-2.30)(5.46,-2.23)(5.94,-2.23)(6.29,-2.36)(6.82,-2.20)(6.99,-2.36)(7.17,-2.18)(4.70,-2.57)(5.23,-2.50)(5.70,-2.57)(6.17,-2.53)(6.58,-2.53)(6.99,-2.49)(6.72,-2.54)(4.47,-2.84)(4.99,-2.90)(5.52,-2.90)(6.05,-2.77)(6.52,-2.84)(6.70,-2.76)(6.88,-2.96)(7.15,-3.01)(4.70,-3.11)(5.23,-3.14)(5.76,-3.11)(6.23,-3.11)(6.70,-3.18)(6.99,-3.18)(7.23,-3.14)(7.35,-3.24)(4.47,-3.38)(4.99,-3.41)(5.52,-3.48)(5.82,-3.38)(6.23,-3.34)(6.58,-3.41)(6.82,-3.41)(7.05,-3.38)(4.70,-3.65)(5.23,-3.68)(5.82,-3.65)(6.29,-3.68)(6.64,-3.65)(6.93,-3.66)(7.23,-3.58)(7.40,-3.65)(4.94,-3.88)(5.46,-3.78)(5.94,-3.85)(6.40,-3.92)(6.76,-3.95)(7.05,-3.88)(4.52,-3.85)(4.70,-4.12)(5.23,-4.15)(5.70,-4.15)(6.11,-4.15)(6.46,-4.09)(6.88,-4.22)(7.05,-4.19)(7.23,-4.12)(4.47,-4.39)(4.94,-4.42)(5.41,-4.42)(5.76,-4.39)(6.23,-4.42)(6.64,-4.56)(7.05,-4.43)(7.11,-4.36)(3.99,-4.73)(4.47,-4.70)(5.05,-4.76)(5.58,-4.70)(6.02,-4.66)(6.40,-4.70)(6.99,-4.76)(7.23,-4.73)(3.58,-4.97)(4.11,-4.93)(4.70,-4.93)(5.23,-4.93)(5.70,-5.03)(6.05,-4.93)(6.35,-4.86)(6.52,-5.03)(6.93,-5.10)(7.11,-4.93)(3.58,-5.32)(4.05,-5.24)(4.47,-5.24)(5.05,-5.27)(5.76,-5.30)(6.35,-5.27)(6.64,-5.32)(6.93,-5.24)(7.23,-5.28)(7.23,-5.44)(4.29,-5.61)(4.58,-5.54)(4.76,-5.47)(5.05,-5.61)(5.46,-5.61)(5.82,-5.57)(6.05,-5.64)(6.40,-5.61)(6.58,-5.54)(6.82,-5.47)(6.99,-5.44)(6.93,-5.61)(4.58,-5.82)(4.79,-5.78)(5.17,-5.86)(5.52,-5.74)(5.99,-5.78)(6.17,-5.78)(6.46,-5.81)(6.82,-5.81)(6.05,-5.91)(5.84,-6.01)(6.02,-6.08)(6.84,-5.91)(5.59,-5.95)(3.5,1.9)(3.7,1.95)(3.95,1.9)(4.15,1.85)(3.45,1.7)(3.65,1.72)(3.85,1.7)(4.05,1.65)(4.25,1.7)(4.2,1.45)(4.55,0.35)(4.4,-4.35)};
% crop x 2.9-6.2, y 2.2-4.4
\addplot[pts] coordinates {(3.15,4.33)(3.19,4.23)(3.60,4.33)(3.70,4.29)(3.73,4.21)(3.90,4.25)(4.07,4.31)(4.31,4.37)(4.35,4.27)(4.72,4.25)(4.86,4.27)(4.76,4.18)(4.93,4.18)(3.29,4.08)(3.46,4.08)(3.63,4.06)(3.94,4.06)(4.21,4.06)(4.35,4.04)(4.0,3.98)(4.48,4.14)(4.69,4.06)(2.95,4.06)(3.02,3.94)(3.22,3.94)(3.43,3.94)(3.63,3.92)(3.77,3.96)(4.18,3.92)(4.35,3.94)(4.62,3.92)(3.29,3.84)(3.39,3.82)(3.73,3.82)(3.90,3.80)(4.07,3.86)(4.89,3.86)(4.69,3.82)(5.06,3.90)(4.72,3.76)(5.06,3.80)(3.15,3.70)(3.32,3.70)(3.56,3.72)(3.77,3.70)(3.94,3.72)(4.28,3.74)(4.52,3.69)(4.69,3.67)(5.06,3.70)(4.07,3.69)(2.95,3.61)(3.29,3.65)(3.80,3.65)(3.97,3.61)(4.21,3.57)(4.35,3.61)(4.72,3.57)(4.89,3.61)(5.10,3.61)(5.34,3.65)(3.08,3.51)(3.39,3.53)(3.56,3.53)(3.94,3.53)(4.42,3.49)(2.95,3.43)(3.22,3.43)(3.66,3.41)(4.04,3.41)(4.62,3.35)(4.48,3.34)(5.06,3.40)(5.34,3.41)(5.51,3.42)(3.08,3.31)(3.53,3.27)(3.77,3.31)(4.11,3.31)(4.35,3.25)(4.81,3.30)(5.24,3.33)(5.44,3.33)(5.61,3.33)(2.93,3.21)(3.29,3.19)(3.90,3.17)(4.18,3.17)(4.52,3.23)(4.89,3.20)(5.13,3.17)(5.34,3.16)(5.51,3.20)(5.71,3.19)(3.08,3.10)(3.43,3.10)(3.66,3.10)(4.28,3.10)(4.52,3.08)(4.76,3.08)(3.25,3.0)(3.56,3.02)(4.21,2.98)(4.42,3.02)(4.93,3.02)(5.51,3.0)(5.68,2.99)(3.39,2.86)(3.60,2.94)(4.07,2.86)(4.31,2.86)(4.72,2.94)(4.86,2.86)(5.06,2.92)(5.24,2.94)(3.02,2.80)(3.29,2.80)(3.77,2.76)(4.52,2.76)(5.27,2.82)(5.44,2.78)(5.10,2.75)(3.56,2.72)(4.18,2.72)(4.86,2.74)(3.08,2.65)(3.39,2.61)(3.77,2.65)(4.0,2.63)(4.72,2.66)(5.27,2.63)(2.95,2.53)(3.22,2.49)(3.56,2.53)(3.87,2.53)(4.25,2.57)(4.69,2.55)(5.82,2.55)(5.92,2.57)(3.05,2.37)(3.77,2.41)(4.0,2.33)(4.21,2.45)(4.48,2.37)(4.62,2.45)(4.86,2.39)(5.10,2.37)(5.47,2.38)(3.29,2.25)(3.70,2.25)(4.18,2.31)(4.59,2.17)(4.89,2.23)(5.13,2.21)(5.34,2.29)(5.58,2.27)(5.75,2.21)(3.87,2.17)(3.49,2.15)(2.95,2.21)(4.28,2.17)(5.88,2.31)(6.05,2.41)(6.21,2.37)};
% crop x 4.1-8.2, y -0.2-2.1
\addplot[pts] coordinates {(4.72,2.06)(4.96,2.04)(5.58,2.06)(5.82,2.08)(6.05,2.05)(6.36,2.04)(4.24,2.0)(4.59,1.94)(5.20,1.98)(5.41,1.90)(5.58,1.92)(5.92,1.96)(6.19,1.98)(6.64,1.84)(6.84,1.88)(6.81,1.80)(4.24,1.82)(4.52,1.86)(4.82,1.84)(4.99,1.84)(5.17,1.84)(5.58,1.82)(6.16,1.76)(6.29,1.76)(4.65,1.74)(4.45,1.72)(5.06,1.72)(5.34,1.72)(5.82,1.66)(6.16,1.66)(6.40,1.62)(6.83,1.70)(7.02,1.68)(4.31,1.62)(4.52,1.60)(5.10,1.64)(5.58,1.68)(6.67,1.62)(6.02,1.60)(4.38,1.51)(4.86,1.57)(5.37,1.53)(5.58,1.49)(5.82,1.53)(5.95,1.49)(6.28,1.47)(6.62,1.55)(6.81,1.53)(6.96,1.53)(7.13,1.53)(7.26,1.50)(4.21,1.43)(4.52,1.45)(4.93,1.45)(5.13,1.35)(5.30,1.41)(6.46,1.43)(6.63,1.45)(6.77,1.45)(7.09,1.39)(4.45,1.35)(4.76,1.33)(4.96,1.33)(5.51,1.35)(5.88,1.35)(6.09,1.35)(6.40,1.37)(6.84,1.37)(7.11,1.35)(4.24,1.25)(4.48,1.25)(5.10,1.29)(5.85,1.25)(5.99,1.21)(6.29,1.27)(6.57,1.29)(6.74,1.27)(5.58,1.25)(5.30,1.23)(4.79,1.17)(4.99,1.19)(4.52,1.15)(5.20,1.15)(5.78,1.19)(6.12,1.17)(6.55,1.13)(6.74,1.10)(6.94,1.11)(7.11,1.15)(4.28,1.11)(4.72,1.07)(5.03,1.06)(5.41,1.06)(5.75,1.06)(6.22,1.06)(6.53,1.02)(6.91,1.06)(7.08,1.10)(4.59,0.98)(4.89,0.96)(5.20,0.98)(5.58,1.02)(5.95,1.02)(6.16,0.98)(6.53,0.92)(6.98,0.94)(7.22,0.96)(7.35,1.0)(7.52,1.03)(4.38,0.88)(4.79,0.88)(5.13,0.90)(5.47,0.88)(5.82,0.92)(6.09,0.88)(6.33,0.84)(6.67,0.86)(6.87,0.84)(5.06,0.78)(5.30,0.80)(5.64,0.78)(5.92,0.82)(6.16,0.78)(6.50,0.74)(6.70,0.74)(7.28,0.78)(7.49,0.74)(7.73,0.80)(7.85,0.83)(4.72,0.74)(4.89,0.68)(5.20,0.64)(5.58,0.72)(5.82,0.70)(6.29,0.62)(6.87,0.62)(7.22,0.64)(8.03,0.72)(4.65,0.60)(4.99,0.58)(5.41,0.62)(5.95,0.62)(6.36,0.60)(6.70,0.55)(6.94,0.58)(7.35,0.55)(4.79,0.49)(5.10,0.51)(5.47,0.49)(6.09,0.45)(6.33,0.45)(7.04,0.51)(7.66,0.48)(7.86,0.46)(4.52,0.45)(4.93,0.37)(5.30,0.43)(5.58,0.39)(5.92,0.43)(6.43,0.37)(6.63,0.42)(6.87,0.39)(7.15,0.45)(7.62,0.39)(4.69,0.33)(5.13,0.29)(5.54,0.29)(5.75,0.25)(6.12,0.27)(6.53,0.31)(6.74,0.25)(7.08,0.26)(7.25,0.33)(7.52,0.23)(7.69,0.27)(7.88,0.29)(8.09,0.25)(4.52,0.21)(4.93,0.17)(5.37,0.21)(5.64,0.17)(6.29,0.21)(6.67,0.15)(6.84,0.17)(4.76,0.09)(5.20,0.09)(5.58,0.04)(6.02,0.11)(6.46,0.11)(7.32,0.09)(7.90,0.09)(4.59,0.0)(4.99,0.0)(5.30,-0.04)(5.95,0.0)(6.33,-0.04)(6.67,0.0)(7.15,0.0)(8.0,0.0)(4.79,-0.10)(5.10,-0.10)(5.75,-0.16)(6.12,-0.14)(6.57,-0.10)(6.77,-0.06)(7.18,-0.14)(7.39,-0.12)(5.41,-0.20)(4.93,-0.22)(6.84,-0.22)(7.76,-0.19)(8.06,-0.18)(6.46,-0.22)};
% crop x 4.1-8.2, y -2.6--0.3
\addplot[pts] coordinates {(4.79,-0.44)(5.13,-0.34)(5.34,-0.36)(5.58,-0.30)(5.90,-0.36)(5.87,-0.45)(6.12,-0.44)(6.60,-0.38)(6.91,-0.32)(6.84,-0.40)(7.11,-0.46)(7.25,-0.47)(7.66,-0.42)(7.83,-0.42)(7.97,-0.46)(5.13,-0.49)(5.37,-0.49)(5.92,-0.53)(6.28,-0.51)(6.46,-0.53)(6.98,-0.49)(6.91,-0.57)(4.96,-0.59)(5.20,-0.61)(5.61,-0.59)(5.95,-0.61)(6.16,-0.63)(6.46,-0.64)(6.70,-0.61)(7.11,-0.63)(7.44,-0.63)(7.86,-0.68)(8.14,-0.67)(4.79,-0.71)(5.27,-0.69)(5.61,-0.69)(5.92,-0.69)(6.33,-0.72)(6.62,-0.71)(7.28,-0.75)(7.43,-0.73)(8.07,-0.77)(4.76,-0.81)(5.06,-0.83)(5.41,-0.79)(5.78,-0.75)(6.09,-0.79)(6.87,-0.81)(7.08,-0.75)(6.57,-0.82)(4.52,-0.85)(5.23,-0.91)(5.92,-0.85)(6.26,-0.85)(6.70,-0.87)(7.73,-0.89)(8.03,-0.88)(4.93,-0.93)(5.54,-0.93)(5.85,-0.95)(6.12,-0.95)(6.43,-0.93)(6.87,-0.93)(7.04,-0.96)(4.62,-1.0)(4.93,-1.02)(5.41,-0.98)(5.64,-1.02)(5.95,-1.0)(6.29,-1.0)(6.57,-1.0)(7.22,-0.98)(7.57,-0.98)(7.73,-0.93)(7.88,-0.99)(8.10,-1.0)(5.51,-1.06)(5.75,-1.08)(6.12,-1.06)(6.70,-1.02)(7.76,-1.06)(8.03,-1.06)(4.62,-1.2)(4.89,-1.16)(5.03,-1.2)(5.30,-1.14)(6.36,-1.16)(6.53,-1.16)(6.69,-1.13)(8.14,-1.11)(4.72,-1.24)(5.37,-1.24)(5.71,-1.22)(5.92,-1.19)(6.09,-1.18)(6.46,-1.2)(6.69,-1.24)(6.98,-1.22)(7.15,-1.26)(7.69,-1.19)(4.93,-1.32)(5.10,-1.32)(5.27,-1.32)(5.51,-1.3)(5.82,-1.31)(6.22,-1.3)(7.58,-1.3)(8.14,-1.29)(4.69,-1.38)(5.41,-1.4)(6.22,-1.38)(6.46,-1.34)(6.36,-1.4)(7.52,-1.4)(5.08,-1.42)(6.84,-1.42)(5.58,-1.44)(4.82,-1.48)(5.20,-1.51)(6.09,-1.48)(6.22,-1.48)(7.6,-1.5)(5.62,-1.52)(5.94,-1.52)(4.72,-1.55)(6.53,-1.55)(6.07,-1.58)(5.10,-1.61)(5.37,-1.61)(6.22,-1.61)(6.50,-1.62)(6.87,-1.59)(6.77,-1.61)(4.89,-1.65)(5.23,-1.67)(5.47,-1.61)(5.78,-1.63)(6.98,-1.65)(7.43,-1.66)(7.73,-1.68)(5.03,-1.73)(5.41,-1.77)(5.71,-1.71)(5.92,-1.71)(6.33,-1.71)(6.50,-1.73)(6.77,-1.73)(7.11,-1.71)(7.35,-1.75)(7.98,-1.76)(4.79,-1.81)(5.51,-1.82)(6.01,-1.83)(6.16,-1.82)(6.29,-1.77)(7.15,-1.81)(6.77,-1.84)(7.76,-1.83)(4.96,-1.89)(5.17,-1.87)(6.16,-1.91)(7.11,-1.87)(8.21,-1.85)(7.66,-1.92)(8.01,-1.92)(4.93,-1.97)(5.20,-1.95)(5.37,-1.95)(5.58,-1.97)(6.28,-1.96)(6.58,-1.96)(6.77,-1.97)(7.06,-1.94)(7.24,-1.91)(4.99,-2.04)(5.64,-2.0)(5.88,-2.02)(6.55,-2.06)(6.91,-2.02)(7.27,-2.02)(5.13,-2.12)(5.41,-2.1)(5.75,-2.08)(6.02,-2.1)(6.36,-2.13)(6.87,-2.1)(7.03,-2.06)(4.79,-2.12)(5.27,-2.18)(5.58,-2.21)(5.92,-2.16)(6.19,-2.18)(6.77,-2.18)(7.01,-2.17)(7.15,-2.18)(7.82,-2.18)(8.12,-2.21)(4.52,-2.22)(4.99,-2.26)(5.78,-2.2)(6.29,-2.27)(6.81,-2.32)(5.30,-2.28)(4.52,-2.34)(4.79,-2.34)(5.47,-2.35)(5.61,-2.31)(5.92,-2.3)(6.07,-2.28)(6.50,-2.34)(7.04,-2.34)(6.29,-2.37)(6.63,-2.38)(6.94,-2.38)(4.99,-2.42)(5.27,-2.42)(5.82,-2.38)(7.90,-2.45)(4.72,-2.48)(5.41,-2.53)(5.64,-2.5)(5.92,-2.5)(6.99,-2.5)(6.55,-2.55)(6.72,-2.53)(7.59,-2.53)(7.80,-2.5)(7.97,-2.57)(6.16,-2.57)};
% crop x 4.1-8.2, y -5--2.6
\addplot[pts] coordinates {(4.82,-2.67)(5.10,-2.65)(5.44,-2.65)(5.92,-2.63)(6.05,-2.67)(6.43,-2.64)(7.30,-2.67)(7.59,-2.71)(7.76,-2.70)(7.97,-2.71)(7.44,-2.74)(7.56,-2.78)(4.99,-2.75)(5.30,-2.75)(5.64,-2.75)(6.09,-2.77)(6.70,-2.76)(6.77,-2.82)(5.30,-2.83)(5.54,-2.80)(6.26,-2.77)(6.53,-2.86)(4.65,-2.85)(4.99,-2.91)(5.92,-2.89)(6.31,-2.87)(7.64,-2.90)(5.41,-2.93)(5.64,-2.91)(6.89,-2.95)(7.51,-2.95)(4.86,-2.99)(5.17,-2.99)(5.82,-2.97)(6.05,-2.99)(6.26,-2.97)(6.57,-3.03)(7.15,-3.0)(7.62,-3.0)(7.80,-3.02)(7.04,-3.05)(5.51,-3.07)(5.92,-3.08)(5.20,-3.10)(4.99,-3.10)(7.24,-3.14)(5.68,-3.16)(6.12,-3.17)(6.29,-3.18)(6.50,-3.14)(6.70,-3.18)(6.98,-3.18)(4.86,-3.2)(5.17,-3.2)(5.78,-3.24)(5.95,-3.24)(6.36,-3.22)(6.89,-3.23)(7.39,-3.24)(4.96,-3.3)(5.41,-3.28)(6.60,-3.31)(7.01,-3.34)(7.18,-3.29)(7.82,-3.29)(4.79,-3.34)(5.78,-3.34)(6.12,-3.34)(6.57,-3.36)(7.22,-3.32)(5.13,-3.42)(5.54,-3.4)(5.88,-3.42)(6.26,-3.4)(6.58,-3.43)(6.82,-3.42)(7.02,-3.41)(7.47,-3.43)(4.93,-3.48)(5.75,-3.46)(6.02,-3.5)(7.63,-3.48)(5.54,-3.52)(5.03,-3.56)(5.20,-3.57)(5.78,-3.55)(4.79,-3.61)(5.95,-3.57)(6.19,-3.59)(6.81,-3.61)(6.99,-3.57)(7.24,-3.56)(5.44,-3.67)(5.61,-3.65)(5.82,-3.67)(6.29,-3.67)(6.57,-3.68)(6.70,-3.68)(6.96,-3.67)(7.13,-3.65)(7.32,-3.61)(7.44,-3.68)(7.61,-3.69)(5.06,-3.69)(5.23,-3.73)(6.02,-3.69)(6.22,-3.71)(6.43,-3.67)(7.28,-3.72)(6.57,-3.74)(5.44,-3.77)(5.64,-3.75)(5.92,-3.77)(6.74,-3.77)(7.13,-3.76)(6.16,-3.81)(6.92,-3.79)(4.79,-3.83)(5.10,-3.83)(5.37,-3.89)(5.68,-3.87)(5.92,-3.87)(6.34,-3.85)(6.58,-3.87)(7.09,-3.88)(7.62,-3.86)(7.66,-3.91)(4.96,-3.93)(5.20,-3.95)(5.54,-3.97)(5.78,-3.95)(6.40,-3.95)(6.67,-3.93)(6.83,-3.92)(6.76,-3.97)(7.01,-3.96)(6.02,-3.99)(5.75,-4.03)(5.13,-4.05)(5.44,-4.07)(6.26,-4.03)(6.43,-4.03)(7.54,-4.02)(6.46,-4.10)(6.09,-4.12)(7.18,-4.10)(7.37,-4.09)(4.79,-4.14)(4.99,-4.18)(5.64,-4.16)(5.88,-4.2)(6.22,-4.16)(7.25,-4.17)(6.87,-4.21)(7.04,-4.18)(7.9,-4.21)(4.52,-4.26)(5.13,-4.28)(5.41,-4.31)(5.75,-4.28)(6.02,-4.26)(6.26,-4.24)(7.59,-4.24)(7.45,-4.28)(7.01,-4.29)(7.18,-4.29)(8.0,-4.29)(8.17,-4.28)(6.36,-4.34)(6.57,-4.32)(4.79,-4.34)(7.26,-4.37)(5.68,-4.38)(5.92,-4.34)(6.12,-4.36)(7.08,-4.41)(4.59,-4.42)(4.99,-4.4)(5.27,-4.4)(6.29,-4.44)(6.53,-4.44)(6.98,-4.44)(7.64,-4.43)(7.91,-4.43)(5.47,-4.46)(5.34,-4.54)(5.71,-4.52)(5.99,-4.48)(6.67,-4.56)(7.43,-4.5)(7.76,-4.52)(4.52,-4.5)(4.79,-4.54)(5.06,-4.54)(6.42,-4.59)(7.35,-4.57)(7.73,-4.61)(7.03,-4.61)(4.24,-4.58)(4.48,-4.67)(5.23,-4.65)(5.68,-4.67)(5.92,-4.63)(6.09,-4.59)(7.39,-4.65)(4.99,-4.67)(4.69,-4.71)(6.36,-4.67)(6.51,-4.68)(5.47,-4.71)(6.04,-4.71)(7.19,-4.71)(6.98,-4.73)(8.17,-4.76)(4.99,-4.81)(5.58,-4.85)(5.92,-4.79)(6.36,-4.79)(7.08,-4.81)(7.73,-4.80)(4.21,-4.87)(4.45,-4.81)(4.65,-4.87)(5.20,-4.87)(6.98,-4.86)(7.25,-4.83)(8.07,-4.84)(4.79,-4.93)(5.82,-4.93)(6.09,-4.95)(7.97,-4.93)(7.59,-4.96)};
\end{axis}
\path[use as bounding box] (-32.16pt,-28.08pt) rectangle ++(648pt,648pt);
\end{tikzpicture}
\end{document}
